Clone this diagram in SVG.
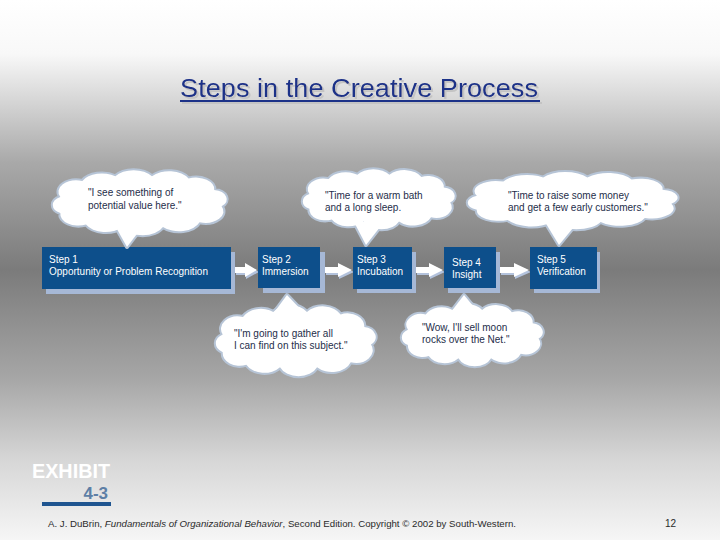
<svg xmlns="http://www.w3.org/2000/svg" xmlns:xlink="http://www.w3.org/1999/xlink" width="720" height="540" viewBox="0 0 720 540">
<defs>
<linearGradient id="bg" x1="0" y1="0" x2="0" y2="1">
<stop offset="0" stop-color="#ffffff"/>
<stop offset="0.1" stop-color="#f8f8f8"/>
<stop offset="0.3" stop-color="#a9a9a9"/>
<stop offset="0.5" stop-color="#7b7b7b"/>
<stop offset="0.7" stop-color="#a6a6a6"/>
<stop offset="0.85" stop-color="#d6d6d6"/>
<stop offset="1" stop-color="#f6f6f6"/>
</linearGradient>
<filter id="tsh" x="-5%" y="-20%" width="110%" height="150%">
<feDropShadow dx="2" dy="2" stdDeviation="0.4" flood-color="#c4c4c4" flood-opacity="1"/>
</filter>
<path id="cb" vector-effect="non-scaling-stroke" d="M8,22 A10,10 0 0 1 20,8 A12,12 0 0 1 38,4 A12,12 0 0 1 58,4 A12,12 0 0 1 78,6 A10,10 0 0 1 92,16 A8,8 0 0 1 96,30 A10,10 0 0 1 84,44 A12,12 0 0 1 64,48 A12,12 0 0 1 42,48 A12,12 0 0 1 22,46 A10,10 0 0 1 8,36 A8,8 0 0 1 8,22 Z"/>
</defs>
<style>
.cs{fill:#b6c4d6;stroke:#b6c4d6;stroke-width:4;stroke-linejoin:round}
.cf{fill:#ffffff;stroke:none}
.ct{font-family:"Liberation Sans",Arial,sans-serif;font-size:10px;fill:#1e2e4a}
.box{fill:#0d4f8b}
.sh{fill:#a6b8d6}
.bt{font-family:"Liberation Sans",Arial,sans-serif;font-size:10px;fill:#ffffff}
.aw{fill:#ffffff}
.as{fill:#b3c2dc}
</style>
<rect x="0" y="0" width="720" height="540" fill="url(#bg)"/>

<g id="title" filter="url(#tsh)">
<text x="180" y="97" font-family="'Liberation Sans',Arial,sans-serif" font-size="26" fill="#1c3188" textLength="358" lengthAdjust="spacingAndGlyphs">Steps in the Creative Process</text>
<rect x="180" y="100" width="360" height="2" fill="#1c3188"/>
</g>

<g id="connectors">
<path class="as" d="M236,269 L246,269 L246,265 L259,272 L246,279 L246,275 L236,275 Z"/>
<path class="aw" d="M235,267 L245,267 L245,263 L257,270 L245,277 L245,273 L235,273 Z"/>
<path class="as" d="M326,269 L339,269 L339,265 L354,272 L339,279 L339,275 L326,275 Z"/>
<path class="aw" d="M325,267 L338,267 L338,263 L352,270 L338,277 L338,273 L325,273 Z"/>
<path class="as" d="M417,269 L430,269 L430,265 L445,272 L430,279 L430,275 L417,275 Z"/>
<path class="aw" d="M416,267 L429,267 L429,263 L443,270 L429,277 L429,273 L416,273 Z"/>
<path class="as" d="M501,269 L515,269 L515,265 L531,272 L515,279 L515,275 L501,275 Z"/>
<path class="aw" d="M500,267 L514,267 L514,263 L529,270 L514,277 L514,273 L500,273 Z"/>
</g>

<g id="step1">
<rect class="sh" x="46" y="252" width="189" height="42"/>
<rect class="box" x="42" y="247" width="189" height="42"/>
<text class="bt" x="49" y="263">Step 1</text>
<text class="bt" x="49" y="275">Opportunity or Problem Recognition</text>
</g>
<g id="step2">
<rect class="sh" x="263" y="252" width="62" height="41"/>
<rect class="box" x="258" y="247" width="62" height="41"/>
<text class="bt" x="262" y="263">Step 2</text>
<text class="bt" x="262" y="275">Immersion</text>
</g>
<g id="step3">
<rect class="sh" x="357" y="252" width="59" height="41"/>
<rect class="box" x="353" y="247" width="59" height="42"/>
<text class="bt" x="357" y="263">Step 3</text>
<text class="bt" x="357" y="275">Incubation</text>
</g>
<g id="step4">
<rect class="sh" x="448" y="252" width="52" height="41"/>
<rect class="box" x="444" y="247" width="52" height="41"/>
<text class="bt" x="452" y="266">Step 4</text>
<text class="bt" x="452" y="278">Insight</text>
</g>
<g id="step5">
<rect class="sh" x="534" y="252" width="66" height="41"/>
<rect class="box" x="530" y="247" width="67" height="42"/>
<text class="bt" x="537" y="263">Step 5</text>
<text class="bt" x="537" y="275">Verification</text>
</g>

<g id="cloud1">
<g class="cs"><use xlink:href="#cb" href="#cb" transform="translate(45.7,171.7) scale(1.832,1.15)"/><polygon points="113,222 127,247 146,222"/></g>
<g class="cf"><use xlink:href="#cb" href="#cb" transform="translate(45.7,171.7) scale(1.832,1.15)"/><polygon points="113,222 127,247 146,222"/></g>
<text class="ct" x="88" y="196">"I see something of</text>
<text class="ct" x="88" y="209">potential value here."</text>
</g>
<g id="cloud2">
<g class="cs"><use xlink:href="#cb" href="#cb" transform="translate(296.6,170.6) scale(1.6,1.062)"/><polygon points="354,222 366,245 384,222"/></g>
<g class="cf"><use xlink:href="#cb" href="#cb" transform="translate(296.6,170.6) scale(1.6,1.062)"/><polygon points="354,222 366,245 384,222"/></g>
<text class="ct" x="325" y="199">"Time for a warm bath</text>
<text class="ct" x="325" y="211">and a long sleep.</text>
</g>
<g id="cloud3">
<g class="cs"><use xlink:href="#cb" href="#cb" transform="translate(459.2,173.5) scale(2.21,1.009)"/><polygon points="545,222 559,245 578,222"/></g>
<g class="cf"><use xlink:href="#cb" href="#cb" transform="translate(459.2,173.5) scale(2.21,1.009)"/><polygon points="545,222 559,245 578,222"/></g>
<text class="ct" x="508" y="199">"Time to raise some money</text>
<text class="ct" x="508" y="211">and get a few early customers."</text>
</g>
<g id="cloud4">
<g class="cs"><use xlink:href="#cb" href="#cb" transform="translate(209.3,306.9) scale(1.684,1.257)"/><polygon points="273,314 287,295 305,314"/></g>
<g class="cf"><use xlink:href="#cb" href="#cb" transform="translate(209.3,306.9) scale(1.684,1.257)"/><polygon points="273,314 287,295 305,314"/></g>
<text class="ct" x="234" y="337">"I'm going to gather all</text>
<text class="ct" x="234" y="349">I can find on this subject."</text>
</g>
<g id="cloud5">
<g class="cs"><use xlink:href="#cb" href="#cb" transform="translate(396.1,305.6) scale(1.484,1.097)"/><polygon points="451,312 464,295 478,312"/></g>
<g class="cf"><use xlink:href="#cb" href="#cb" transform="translate(396.1,305.6) scale(1.484,1.097)"/><polygon points="451,312 464,295 478,312"/></g>
<text class="ct" x="422" y="331">"Wow, I'll sell moon</text>
<text class="ct" x="422" y="343">rocks over the Net."</text>
</g>

<g id="exhibit">
<text x="32" y="478" font-family="'Liberation Sans',Arial,sans-serif" font-size="20" font-weight="bold" fill="#ffffff" textLength="78" lengthAdjust="spacingAndGlyphs">EXHIBIT</text>
<text x="108" y="499" text-anchor="end" font-family="'Liberation Sans',Arial,sans-serif" font-size="17" font-weight="bold" fill="#5d7fa6">4-3</text>
<rect x="42" y="502" width="69" height="4" fill="#1f5590"/>
</g>

<g id="footer">
<text x="48" y="527" font-family="'Liberation Sans',Arial,sans-serif" font-size="9" fill="#2a2a2a" textLength="468" lengthAdjust="spacingAndGlyphs">A. J. DuBrin, <tspan font-style="italic">Fundamentals of Organizational Behavior</tspan>, Second Edition. Copyright © 2002 by South-Western.</text>
<text x="676" y="527" text-anchor="end" font-family="'Liberation Sans',Arial,sans-serif" font-size="10" fill="#2a2a2a">12</text>
</g>
</svg>
